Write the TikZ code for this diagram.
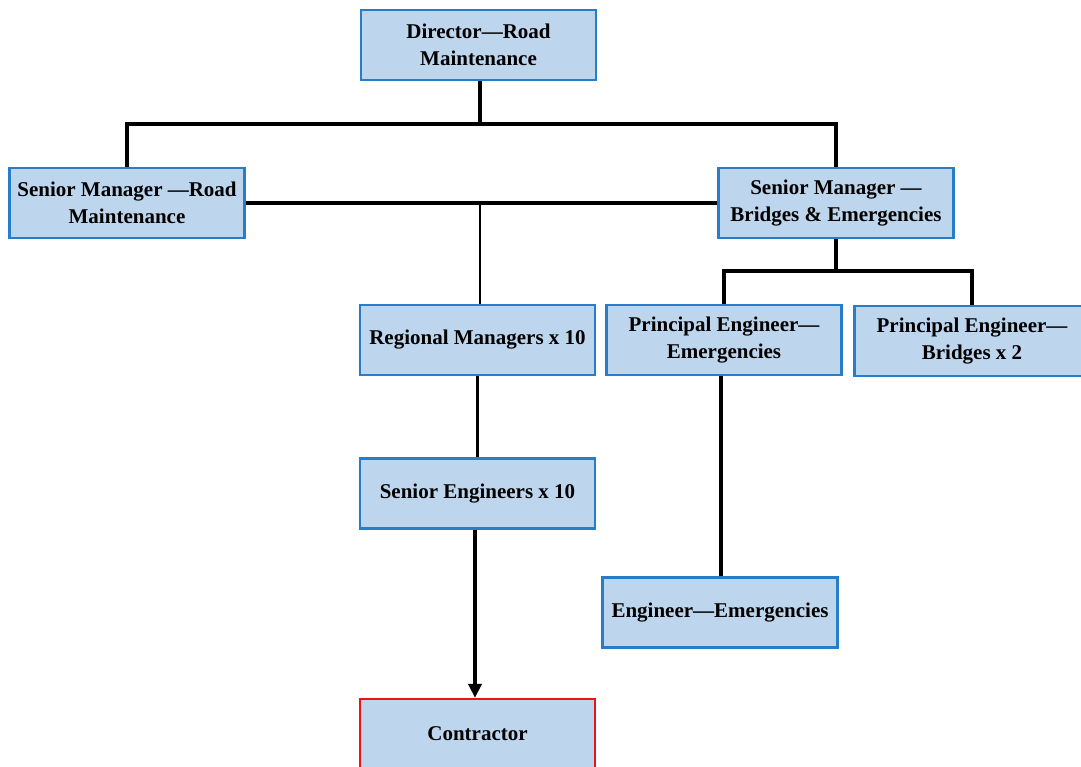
\documentclass[tikz,border=0pt]{standalone}
\usepackage{fontspec}
\setmainfont{Liberation Serif}
\usetikzlibrary{arrows.meta}
\definecolor{boxfill}{RGB}{190,214,237}
\definecolor{boxline}{RGB}{40,125,200}
\definecolor{redline}{RGB}{235,20,20}
\tikzset{
  orgbox/.style={draw=boxline, fill=boxfill, line width=2.2pt, minimum width=235pt, minimum height=70pt,
    inner sep=0pt, align=center, font=\fontsize{21}{27}\selectfont\bfseries},
  conn/.style={draw=black, line width=3.6pt},
  thinconn/.style={draw=black, line width=2.4pt},
}
\begin{document}
\begin{tikzpicture}[x=1pt,y=-1pt]
\useasboundingbox (0,0) rectangle (1081,767);
\node[orgbox] (dir) at (478.5,45) {Director—Road\\Maintenance};
\node[orgbox] (smr) at (127,203) {Senior Manager —Road\\Maintenance};
\node[orgbox] (smb) at (836,203) {Senior Manager —\\Bridges \& Emergencies};
\node[orgbox] (rm) at (477.5,340) {Regional Managers x 10};
\node[orgbox] (pee) at (724,340) {Principal Engineer—\\Emergencies};
\node[orgbox] (peb) at (972,341) {Principal Engineer—\\Bridges x 2};
\node[orgbox] (se) at (477.5,493.5) {Senior Engineers x 10};
\node[orgbox] (ee) at (720,612.5) {Engineer—Emergencies};
\node[orgbox, draw=redline] (con) at (477.5,734) {Contractor};
\coordinate (j1) at (480,124);
\coordinate (j2) at (836,271);
\draw[conn] (dir.south -| j1) -- (j1);
\draw[conn] (smr.north) -- (smr.north |- j1) -- (smb.north |- j1) -- (smb.north);
\draw[conn] (smr.east) -- (smb.west);
\draw[thinconn] (rm.north -| j1) -- (smr.east -| j1);
\draw[conn] (rm.south) -- (se.north);
\draw[conn, -{Triangle[length=14pt,width=13pt]}] (se.south -| 475,0) -- (con.north -| 475,0);
\draw[conn] (smb.south) -- (j2);
\draw[conn] (pee.north) -- (pee.north |- j2) -- (peb.north |- j2) -- (peb.north);
\draw[conn] (pee.south -| 721,0) -- (ee.north -| 721,0);
\end{tikzpicture}
\end{document}
